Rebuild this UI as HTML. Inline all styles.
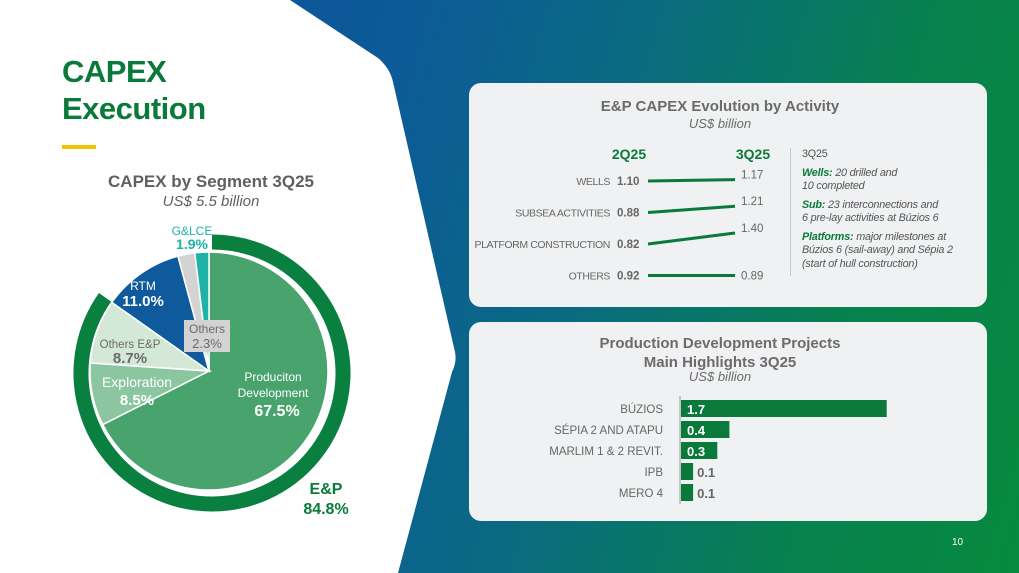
<!DOCTYPE html>
<html><head><meta charset="utf-8"><style>
body{margin:0;width:1019px;height:573px;overflow:hidden;font-family:"Liberation Sans",sans-serif;}
#root{position:relative;width:1019px;height:573px;background:linear-gradient(105deg,#0c4f9c 0%,#0c5a98 35%,#0a6a82 55%,#07814e 80%,#068a3e 100%);}
.abs{position:absolute;}
.panel{position:absolute;background:#f0f1f2;border-radius:12px;}
svg{overflow:visible;}
</style></head><body>
<div id="root">
<svg class="abs" style="left:0;top:0" width="1019" height="573">
<path d="M0 0 L290 0 L378 58 Q390 68 393 82 L455 352 Q457 362 452 372 L398 573 L0 573 Z" fill="#ffffff"/>
</svg>
<div class="abs" style="left:62px;top:53px;font-size:31px;font-weight:bold;color:#0a7a3a;line-height:37px;letter-spacing:-0.5px;">CAPEX<br>Execution</div>
<div class="abs" style="left:62px;top:145px;width:34px;height:4px;background:#f2c200;"></div>
<div class="abs" style="left:61px;top:172px;width:300px;text-align:center;font-size:17px;font-weight:bold;color:#5f6062;">CAPEX by Segment 3Q25</div>
<div class="abs" style="left:61px;top:193px;width:300px;text-align:center;font-size:15px;font-style:italic;color:#5f6062;">US$ 5.5 billion</div>

<svg id="pie" class="abs" style="left:0;top:0" width="460" height="573"></svg>

<div class="panel" style="left:469px;top:83px;width:518px;height:224px;"></div>
<div class="panel" style="left:469px;top:322px;width:518px;height:199px;"></div>

<div class="abs" style="left:469px;top:98px;width:502px;text-align:center;font-size:15px;font-weight:bold;color:#6b6b6b;">E&amp;P CAPEX Evolution by Activity</div>
<div class="abs" style="left:469px;top:116px;width:502px;text-align:center;font-size:13px;font-style:italic;color:#6b6b6b;">US$ billion</div>

<svg id="slope" class="abs" style="left:469px;top:83px" width="518" height="224"></svg>

<div class="abs" style="left:790px;top:148px;width:1px;height:128px;background:#c8c8c8;"></div>
<div class="abs" style="left:802px;top:148px;width:190px;font-size:10.8px;color:#555;line-height:13.5px;letter-spacing:-0.2px;">
<div style="margin-bottom:5px;">3Q25</div>
<div style="font-style:italic;margin-bottom:5px;"><b style="color:#0a7a3a">Wells:</b> 20 drilled and<br>10 completed</div>
<div style="font-style:italic;margin-bottom:5px;"><b style="color:#0a7a3a">Sub:</b> 23 interconnections and<br>6 pre-lay activities at Búzios 6</div>
<div style="font-style:italic;"><b style="color:#0a7a3a">Platforms:</b> major milestones at<br>Búzios 6 (sail-away) and Sépia 2<br>(start of hull construction)</div>
</div>

<div class="abs" style="left:469px;top:334px;width:502px;text-align:center;font-size:15px;font-weight:bold;color:#6b6b6b;line-height:19px;">Production Development Projects<br>Main Highlights 3Q25</div>
<div class="abs" style="left:469px;top:369px;width:502px;text-align:center;font-size:13px;font-style:italic;color:#6b6b6b;">US$ billion</div>

<svg id="bars" class="abs" style="left:469px;top:390px" width="518" height="120"></svg>

<div class="abs" style="left:952px;top:537px;font-size:10px;color:#fff;">10</div>
</div>
<script>
const NS='http://www.w3.org/2000/svg';
function mk(p,t,a,txt){const e=document.createElementNS(NS,t);for(const k in a)e.setAttribute(k,a[k]);if(txt!==undefined)e.textContent=txt;p.appendChild(e);return e;}

// Pie data
const pieLabels=['Produciton Development','Exploration','Others E&P','RTM','Others','G&LCE'];
const pieValues=[67.5,8.5,8.7,11.0,2.3,1.9];
const ringValue=84.8;
const pieColors=['#48a36c','#8cc6a0','#d4e8d7','#0e5a9c','#d3d3d3','#1fb3a8'];
const pie=document.getElementById('pie');
const cx=209,cy=371,R=119;
function pt(r,f,x0,y0){const a=f*2*Math.PI;return [(x0||cx)+r*Math.sin(a),(y0||cy)-r*Math.cos(a)];}
const tot=pieValues.reduce((a,b)=>a+b,0);
let acc=0;
pieValues.forEach((v,i)=>{
  const f0=acc/tot,f1=(acc+v)/tot;acc+=v;
  const p0=pt(R,f0),p1=pt(R,f1);const large=(f1-f0)>0.5?1:0;
  const s=mk(pie,'path',{d:`M${cx} ${cy} L${p0[0]} ${p0[1]} A${R} ${R} 0 ${large} 1 ${p1[0]} ${p1[1]} Z`,fill:pieColors[i],stroke:'#fff','stroke-width':1.5});
  
  
});
// ring
{const rx=212,ry=373,rr=131,f=ringValue/100;
 const p0=pt(rr,0,rx,ry),p1=pt(rr,f,rx,ry);
 const r=mk(pie,'path',{d:`M${p0[0]} ${p0[1]} A${rr} ${rr} 0 ${f>0.5?1:0} 1 ${p1[0]} ${p1[1]}`,fill:'none',stroke:'#0a8040','stroke-width':15});
 
 }
const pieText=[
 [192,'G&LCE',12,'normal','#1fb3a8',235],[192,'1.9%',14,'bold','#1fb3a8',249],
 [143,'RTM',12,'normal','#fff',290],[143,'11.0%',15,'bold','#fff',306],
 [130,'Others E&P',11.5,'normal','#6b6b6b',348],[130,'8.7%',15,'bold','#6b6b6b',363],
 [137,'Exploration',14,'normal','#fff',387],[137,'8.5%',15,'bold','#fff',405],
 [273,'Produciton',12,'normal','#fff',381],[273,'Development',12,'normal','#fff',397],[277,'67.5%',16,'bold','#fff',416],
 [326,'E&P',16,'bold','#0a7a3a',494],[326,'84.8%',16,'bold','#0a7a3a',514]];
mk(pie,'rect',{x:184,y:320,width:46,height:32,fill:'#d3d3d3'});
const ot1=mk(pie,'text',{x:207,y:333,'text-anchor':'middle','font-size':12,fill:'#6b6b6b'},'Others');


const ot2=mk(pie,'text',{x:207,y:348,'text-anchor':'middle','font-size':13,fill:'#6b6b6b'},'2.3%');


pieText.forEach(t=>{const e=mk(pie,'text',{x:t[0],y:t[5],'text-anchor':'middle','font-size':t[2],'font-weight':t[3],fill:t[4]},t[1]);
 
 });

// Slope chart data
const actCats=['WELLS','SUBSEA ACTIVITIES','PLATFORM CONSTRUCTION','OTHERS'];
const q2=[1.10,0.88,0.82,0.92];
const q3=[1.17,1.21,1.40,0.89];
const sl=document.getElementById('slope');
const rowY=i=>98+i*31.5;
const slopeY=(i,d)=>rowY(i)-Math.max(0,d)*19;
let e=mk(sl,'text',{x:160,y:76,'text-anchor':'middle','font-size':14,'font-weight':'bold',fill:'#0a7a3a'},'2Q25');


e=mk(sl,'text',{x:284,y:76,'text-anchor':'middle','font-size':14,'font-weight':'bold',fill:'#0a7a3a'},'3Q25');


actCats.forEach((c,i)=>{
  const y0=rowY(i),y1=slopeY(i,q3[i]-q2[i]);
  let t=mk(sl,'text',{x:141,y:y0+4,'text-anchor':'end','font-size':10.5,'letter-spacing':'-0.4',fill:'#666'},c);
  
  
  t=mk(sl,'text',{x:148,y:y0+4,'font-size':11.5,'font-weight':'bold',fill:'#666'},q2[i].toFixed(2));
  
  
  const l=mk(sl,'line',{x1:179,y1:y0,x2:266,y2:y1,stroke:'#0a7a3a','stroke-width':3});
  
  
  t=mk(sl,'text',{x:272,y:y1+(i==3?4:-1),'font-size':11.5,fill:'#666'},q3[i].toFixed(2));
  
  
});

// Bars data
const projCats=['BÚZIOS','SÉPIA 2 AND ATAPU','MARLIM 1 & 2 REVIT.','IPB','MERO 4'];
const projVals=[1.7,0.4,0.3,0.1,0.1];
const bs=document.getElementById('bars');
const x0=211,sc=121;
const by=i=>10+i*21;
const ax=mk(bs,'line',{x1:x0,y1:6,x2:x0,y2:114,stroke:'#999','stroke-width':1});


projCats.forEach((c,i)=>{
  const w=projVals[i]*sc;
  const r=mk(bs,'rect',{x:x0+1,y:by(i),width:w,height:17,fill:'#0a7a3a'});
  
  
  let t=mk(bs,'text',{x:194,y:by(i)+13,'text-anchor':'end','font-size':11.5,fill:'#666'},c);
  
  
  const inside=w>30;
  t=mk(bs,'text',{x:inside?x0+7:x0+w+5,y:by(i)+14,'font-size':13,'font-weight':'bold',fill:inside?'#fff':'#666'},projVals[i].toFixed(1));
  
  
});
</script>
</body></html>
